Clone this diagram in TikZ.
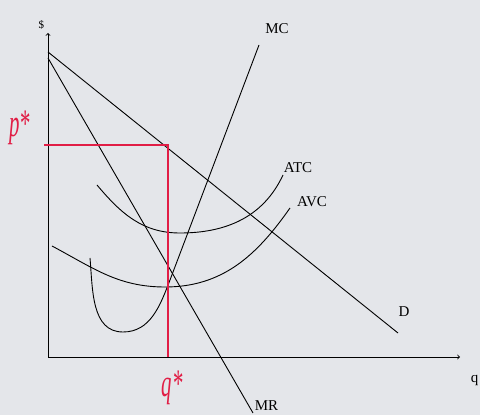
\documentclass[tikz,border=0pt]{standalone}
\usepackage{fontspec}
\setmainfont{Liberation Serif}
\definecolor{paper}{RGB}{228,230,234}
\definecolor{pen}{RGB}{225,30,70}
\newcommand{\handtext}[1]{\scalebox{0.8}[1.5]{#1}}
\begin{document}
\begin{tikzpicture} [x = 1pt, y = 1pt, line width = 0.9pt,
	lab/.style = {font = \fontsize{15}{17}\selectfont},
	hand/.style = {pen, font = \fontsize{26}{28}\selectfont\itshape}]
	\fill [paper] (0,0) rectangle (480,415);
	\useasboundingbox (0,0) rectangle (480,415);
	% axes
	\draw [->] (48,58) -- (48,382) node (dollar) [above left] {\fontsize{11}{12}\selectfont\$};
	\draw [->] (48,58) -- (460,58);
	\node (q) [lab, anchor = west] at (467,35) {q};
	% demand and marginal revenue
	\draw (48,363) -- (398,82);
	\node (d) [lab] at (404,103) {D};
	\draw (48,357) -- (253,2);
	\node (mr) [lab, anchor = west] at (251,9) {MR};
	% cost curves
	\draw (90,157) to [out = -85, in = 180] (123,83) to [out = 0, in = 249] (170,135) -- (259,370);
	\node (mc) [lab] at (277,386) {MC};
	\draw (97,230) to [out = -50, in = 180] (180,182) to [out = 0, in = -115] (283,240);
	\node (atc) [lab] at (298,247) {ATC};
	\draw (52,169) to [out = -28, in = 180] (165,128) to [out = 0, in = -125] (290,207);
	\node (avc) [lab] at (312,213) {AVC};
	% profit maximizing price and quantity
	\draw [pen, line width = 1.4pt] (44,270) -- (168,270) -- (168,58);
	\node (pstar) [hand] at (20,287) {\handtext{p*}};
	\node (qstar) [hand] at (172,27) {\handtext{q*}};
\end{tikzpicture}
\end{document}
